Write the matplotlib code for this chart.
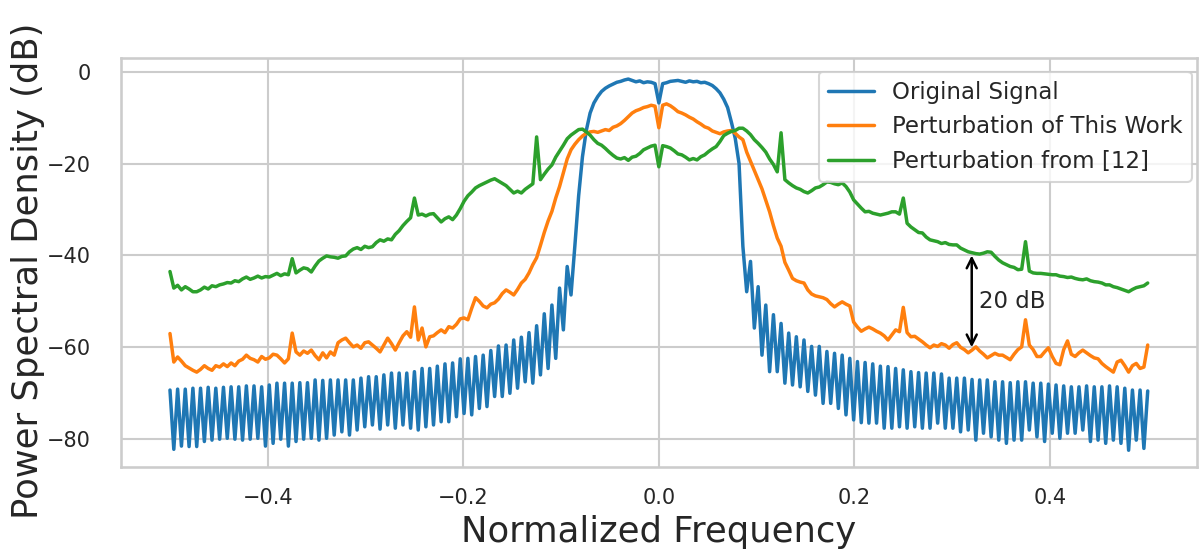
import numpy as np
import matplotlib
matplotlib.use("Agg")
import matplotlib.pyplot as plt
import seaborn as sns

# frequency grid shared by all three spectra
freq = np.linspace(-0.5, 0.5, 257)

# original signal: sidelobe peaks / troughs, plus the main lobe
blue_left_peaks = [-69.3, -69.1, -69.1, -68.9, -68.9, -68.7, -68.9, -68.7, -68.6, -68.6,
                   -68.4, -68.4, -68.6, -68.2, -67.8, -67.8, -67.8, -67.7, -67.7, -67.1,
                   -67.2, -67.1, -67.1, -67.1, -67.1, -66.7, -66.4, -66.4, -66.0, -65.6,
                   -65.6, -65.6, -65.3, -64.6, -64.6, -64.1, -63.6, -63.4, -62.5, -62.4,
                   -62.0, -61.7, -60.7, -59.7, -59.5, -58.4, -57.8, -56.8, -55.3, -52.7,
                   -50.8, -47.1, -42.4]
blue_left_troughs = [-82.2, -81.5, -81.6, -81.6, -80.5, -80.2, -80.0, -79.8, -80.0, -80.2,
                     -80.0, -79.8, -81.5, -80.9, -80.0, -81.5, -80.5, -80.0, -79.8, -80.2,
                     -79.8, -79.1, -78.4, -79.1, -78.0, -77.3, -76.9, -77.8, -76.9, -77.6,
                     -76.9, -77.6, -78.0, -77.3, -76.9, -76.2, -76.2, -75.1, -74.4, -74.7,
                     -73.3, -72.9, -70.7, -70.7, -70.0, -68.9, -67.5, -67.8, -66.0, -64.6,
                     -62.4, -56.2, -48.6]
blue_main = [-38.0, -27.0, -18.5, -12.8, -9.0, -6.8, -5.4, -4.3, -3.6, -3.1,
             -2.7, -2.3, -2.1, -1.8, -1.6, -1.9, -2.2, -2.0, -2.4, -2.2,
             -2.3, -2.6, -6.8, -2.6, -2.4, -2.1, -2.0, -1.9, -2.1, -2.3,
             -2.0, -2.2, -2.1, -2.4, -2.3, -2.6, -3.0, -3.7, -4.6, -6.0,
             -7.8, -11.0, -14.5, -20.0, -38.0]
blue_right_troughs = [-47.9, -55.8, -61.7, -65.3, -65.3, -67.8, -68.2, -68.6, -69.6, -70.4,
                      -72.2, -72.2, -73.3, -74.7, -75.8, -76.4, -76.5, -76.5, -77.6, -77.6,
                      -77.3, -77.6, -77.3, -77.6, -77.6, -76.5, -77.6, -77.6, -78.4, -78.0,
                      -80.2, -78.7, -79.5, -80.2, -80.9, -80.2, -80.2, -78.0, -79.5, -80.5,
                      -78.7, -79.8, -78.7, -78.7, -78.0, -80.5, -80.2, -80.9, -80.2, -80.9,
                      -82.4, -80.2, -82.0]
blue_right_peaks = [-41.3, -46.8, -50.8, -52.9, -54.8, -56.9, -57.7, -58.4, -59.8, -59.8,
                    -60.9, -61.3, -61.7, -62.4, -63.1, -63.3, -63.6, -64.1, -64.2, -64.6,
                    -64.9, -65.3, -65.5, -65.6, -65.6, -65.8, -66.7, -66.7, -66.7, -67.0,
                    -67.1, -67.1, -67.5, -67.5, -67.7, -67.5, -67.5, -67.8, -67.8, -68.0,
                    -68.2, -68.4, -68.6, -68.6, -68.4, -68.6, -68.6, -68.4, -68.6, -68.9,
                    -69.3, -69.3, -69.5]

orange = [-57.0, -63.2, -62.1, -63.0, -64.0, -64.5, -65.0, -65.4, -64.8, -64.0,
          -64.6, -65.0, -64.0, -64.3, -63.6, -64.2, -63.4, -64.0, -63.0, -62.6,
          -61.7, -62.4, -62.7, -63.2, -62.0, -62.6, -62.3, -61.5, -61.7, -62.5,
          -63.4, -62.5, -56.9, -61.0, -61.7, -60.8, -61.3, -60.6, -61.8, -62.7,
          -61.2, -62.3, -61.0, -61.7, -59.0, -58.4, -58.0, -59.0, -59.9, -59.5,
          -60.2, -59.0, -58.8, -59.5, -60.2, -61.0, -59.5, -58.0, -59.2, -60.6,
          -59.0, -57.5, -56.6, -57.8, -51.2, -58.4, -55.8, -59.9, -57.7, -57.5,
          -56.8, -56.2, -56.8, -55.5, -55.8, -55.0, -53.8, -53.6, -54.0, -51.5,
          -49.2, -50.0, -51.0, -51.4, -50.6, -50.3, -49.5, -48.3, -47.5, -48.0,
          -48.6, -47.4, -46.0, -45.2, -43.8, -42.0, -40.5, -37.8, -35.0, -32.5,
          -30.4, -27.5, -25.0, -22.0, -19.0, -17.0, -15.8, -14.8, -14.0, -13.4,
          -13.1, -13.0, -13.2, -12.9, -12.6, -12.8, -12.1, -11.8, -11.3, -10.6,
          -9.8, -9.0, -8.5, -8.2, -7.8, -7.6, -7.3, -7.5, -12.2, -7.3,
          -7.0, -7.4, -8.0, -8.7, -9.0, -9.4, -9.9, -10.3, -10.9, -11.4,
          -12.0, -12.3, -12.9, -13.2, -13.5, -13.1, -12.9, -12.8, -13.4, -14.2,
          -14.8, -17.5, -19.5, -21.5, -23.5, -25.5, -28.0, -30.5, -33.5, -36.2,
          -38.0, -41.5, -43.2, -45.0, -45.5, -45.8, -46.0, -47.5, -48.4, -48.8,
          -49.0, -49.2, -49.6, -50.5, -51.2, -50.6, -50.1, -50.6, -51.0, -54.5,
          -55.6, -56.5, -56.0, -55.6, -56.0, -56.5, -56.9, -57.5, -58.4, -57.3,
          -56.2, -56.6, -51.3, -56.8, -57.7, -57.6, -58.2, -58.8, -59.5, -60.1,
          -59.5, -59.8, -59.2, -59.5, -60.2, -59.4, -59.0, -60.0, -60.5, -61.2,
          -60.6, -59.9, -60.8, -61.5, -62.3, -61.8, -61.3, -61.7, -61.7, -62.2,
          -62.7, -61.5, -60.5, -59.9, -54.0, -59.5, -60.5, -62.0, -62.0, -61.0,
          -60.1, -62.0, -63.5, -63.8, -60.5, -58.6, -61.5, -62.0, -61.2, -60.6,
          -61.2, -61.8, -62.3, -62.5, -63.5, -64.2, -64.8, -65.4, -63.2, -62.8,
          -64.0, -65.4, -64.0, -63.5, -64.6, -64.3, -59.5]

green = [-43.5, -47.1, -46.5, -47.5, -46.8, -47.3, -47.9, -47.9, -47.5, -46.9,
         -47.3, -46.6, -46.8, -46.4, -46.2, -45.9, -46.0, -45.5, -45.7, -45.1,
         -44.7, -45.2, -44.9, -44.5, -44.9, -44.6, -44.7, -44.3, -43.9, -44.4,
         -44.0, -44.2, -40.7, -43.8, -43.2, -42.7, -42.9, -43.6, -42.3, -41.2,
         -40.6, -40.1, -40.3, -40.4, -40.6, -40.2, -40.1, -39.2, -38.6, -38.3,
         -38.7, -38.0, -38.3, -38.1, -37.2, -36.6, -36.9, -36.4, -36.6, -35.4,
         -34.6, -33.5, -32.6, -31.8, -27.5, -31.2, -31.0, -31.4, -31.0, -30.9,
         -31.8, -32.7, -32.0, -31.6, -32.2, -31.2, -29.8, -28.2, -27.0, -26.2,
         -25.3, -24.8, -24.4, -24.0, -23.6, -23.3, -23.8, -24.3, -24.8, -25.6,
         -26.4, -26.0, -26.4, -25.6, -25.0, -24.4, -14.2, -23.5, -22.3, -21.2,
         -20.3, -18.6, -17.3, -16.0, -14.6, -13.8, -13.2, -12.6, -12.5, -13.1,
         -13.8, -14.8, -15.6, -16.0, -16.7, -17.5, -18.2, -18.8, -19.0, -18.7,
         -19.3, -18.6, -18.4, -17.8, -17.0, -16.6, -16.2, -16.0, -20.7, -16.1,
         -16.3, -16.6, -17.2, -17.9, -18.1, -18.6, -19.2, -18.9, -19.2, -18.5,
         -18.1, -17.4, -16.8, -16.3, -15.2, -13.9, -13.4, -13.0, -12.8, -12.3,
         -12.3, -12.9, -13.7, -14.8, -15.6, -16.5, -17.5, -19.0, -20.2, -21.8,
         -13.3, -23.5, -24.2, -24.8, -25.3, -25.6, -26.1, -26.4, -25.9, -25.3,
         -25.1, -24.6, -24.0, -24.1, -24.4, -24.6, -24.2, -25.0, -26.2, -27.9,
         -28.8, -29.7, -30.5, -30.4, -30.8, -31.0, -31.2, -31.0, -30.8, -30.5,
         -30.5, -31.0, -27.5, -33.0, -33.8, -34.4, -35.0, -35.1, -36.0, -36.6,
         -36.8, -37.0, -37.4, -37.2, -37.6, -37.7, -37.7, -38.4, -38.8, -39.2,
         -39.4, -39.6, -39.7, -39.5, -39.2, -39.3, -40.2, -41.0, -41.6, -42.0,
         -42.4, -42.6, -43.1, -43.0, -37.0, -43.4, -43.8, -43.9, -43.9, -44.0,
         -44.1, -44.2, -44.2, -44.5, -44.6, -44.8, -44.7, -45.0, -45.2, -45.3,
         -45.1, -45.5, -45.7, -45.8, -46.0, -46.4, -46.4, -46.8, -47.0, -47.3,
         -47.6, -47.9, -47.4, -47.0, -46.8, -46.6, -46.0]

labels = ["Original Signal", "Perturbation of This Work", "Perturbation from [12]"]

# interleave the blue sidelobe peaks and troughs
left = np.empty(106)
left[0::2] = blue_left_peaks
left[1::2] = blue_left_troughs
right = np.empty(106)
right[0::2] = blue_right_troughs
right[1::2] = blue_right_peaks
blue = np.concatenate([left, blue_main, right])

sns.set_style("whitegrid")
sns.set_context("talk")

fig = plt.figure(figsize=(11.99, 5.57), dpi=100)
ax = fig.add_axes([0.101, 0.162, 0.897, 0.734])

lw = 2.5
ax.plot(freq, blue, lw=lw, label=labels[0])
ax.plot(freq, orange, lw=lw, label=labels[1])
ax.plot(freq, green, lw=lw, label=labels[2])

ax.set_xlim(-0.55, 0.55)
ax.set_ylim(-86, 3)
ax.set_xticks([-0.4, -0.2, 0.0, 0.2, 0.4])
ax.set_yticks([0, -20, -40, -60, -80])
ax.tick_params(axis="both", labelsize=15)
ax.tick_params(axis="x", pad=6)
ax.tick_params(axis="y", pad=13)

ax.set_xlabel("Normalized Frequency", fontsize=25.5)
ax.set_ylabel("Power Spectral Density (dB)", fontsize=25.5)
ax.xaxis.set_label_coords(0.5, -0.118)
ax.yaxis.set_label_coords(-0.071, 0.48)

# 20 dB gap marker
ax.annotate("", xy=(0.32, -40), xytext=(0.32, -60),
            arrowprops=dict(arrowstyle="<->", color="k", lw=1.8, shrinkA=0, shrinkB=0))
ax.text(0.327, -50, "20 dB", va="center", ha="left", fontsize=16.5, color=".15")

leg = ax.legend(loc="upper right", bbox_to_anchor=(0.9954, 0.966), borderaxespad=0,
                fontsize=16.5)
for line in leg.get_lines():
    line.set_linewidth(lw)

fig.savefig("out.png", dpi=100)
